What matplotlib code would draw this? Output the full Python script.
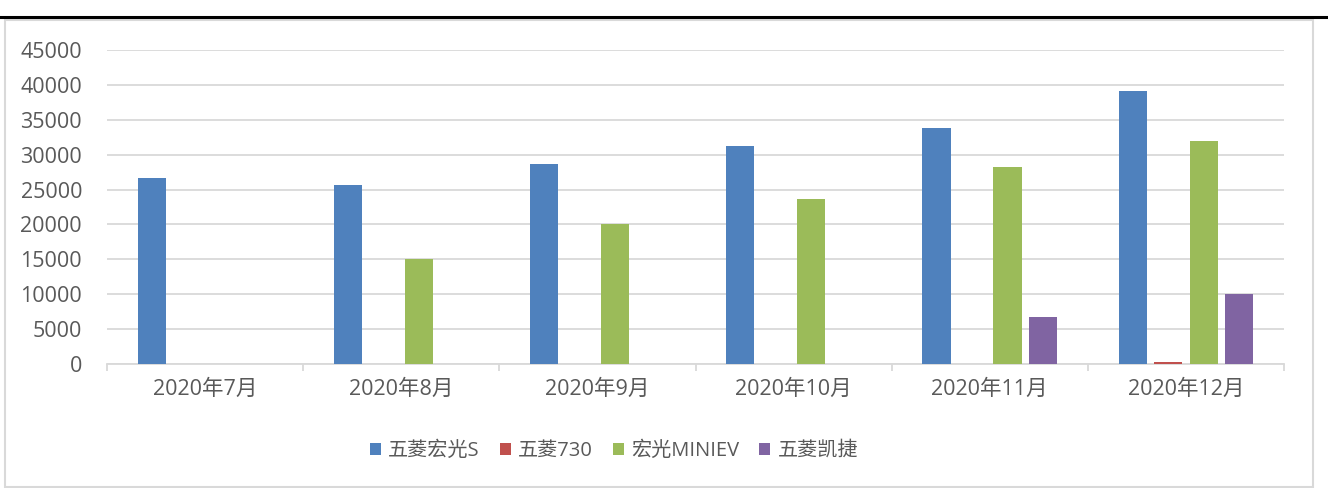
import numpy as np
import matplotlib.pyplot as plt
from matplotlib.patches import Rectangle
from matplotlib.lines import Line2D

plt.rcParams['font.family'] = ['Open Sans', 'Noto Sans CJK SC', 'DejaVu Sans']

months = ["2020年7月", "2020年8月", "2020年9月", "2020年10月", "2020年11月", "2020年12月"]
series_names = ["五菱宏光S", "五菱730", "宏光MINIEV", "五菱凯捷"]
hongguang_s = [26700, 25700, 28700, 31300, 33800, 39100]
wuling_730 = [0, 0, 0, 0, 0, 300]
miniev = [0, 15000, 20100, 23700, 28200, 32000]
kaijie = [0, 0, 0, 0, 6800, 10000]
colors = ["#4F81BD", "#C0504D", "#9BBB59", "#8064A2"]
yticks = [0, 5000, 10000, 15000, 20000, 25000, 30000, 35000, 40000, 45000]

W, H = 1328, 488
fig = plt.figure(figsize=(W / 100, H / 100), dpi=100)

# outer frame and top rule
fig.add_artist(Rectangle((5 / W, 1 - 487 / H), 1308 / W, 467 / H, transform=fig.transFigure,
                         fill=False, edgecolor="#d9d9d9", linewidth=1.5))
fig.add_artist(Line2D([0, 1], [1 - 17 / H, 1 - 17 / H], transform=fig.transFigure,
                      color="black", linewidth=2.2))

ax = fig.add_axes([107 / W, 1 - 364 / H, 1177 / W, 314 / H])

x = np.arange(len(months))
data = [hongguang_s, wuling_730, miniev, kaijie]
step = 0.181
bw = 0.143
for i, (vals, name, c) in enumerate(zip(data, series_names, colors)):
    ax.bar(x + (i - 1.5) * step, vals, width=bw, color=c, label=name, zorder=3)

fs = 15.5
ax.set_xlim(-0.5, len(months) - 0.5)
ax.set_ylim(0, 45000)
ax.set_yticks(yticks)
ax.yaxis.grid(True, color="#d9d9d9", linewidth=1.3, zorder=0)
ax.tick_params(axis="y", length=0, pad=18, labelsize=fs, labelcolor="#595959")

ax.set_xticks(x)
ax.set_xticklabels(months)
ax.tick_params(axis="x", length=0, pad=11, labelsize=fs, labelcolor="#595959")
ax.set_xticks(np.arange(len(months) + 1) - 0.5, minor=True)
ax.tick_params(axis="x", which="minor", length=5, width=1.3, color="#d9d9d9")

for s in ["top", "right", "left"]:
    ax.spines[s].set_visible(False)
ax.spines["bottom"].set_color("#d9d9d9")
ax.spines["bottom"].set_linewidth(1.3)

fig.legend(loc="center", bbox_to_anchor=(614 / W, 1 - 451 / H), ncol=4, frameon=False,
           fontsize=14.5, labelcolor="#595959", handlelength=0.55, handleheight=0.55,
           handletextpad=0.35, columnspacing=1.0)

fig.savefig("out.png", dpi=100)
